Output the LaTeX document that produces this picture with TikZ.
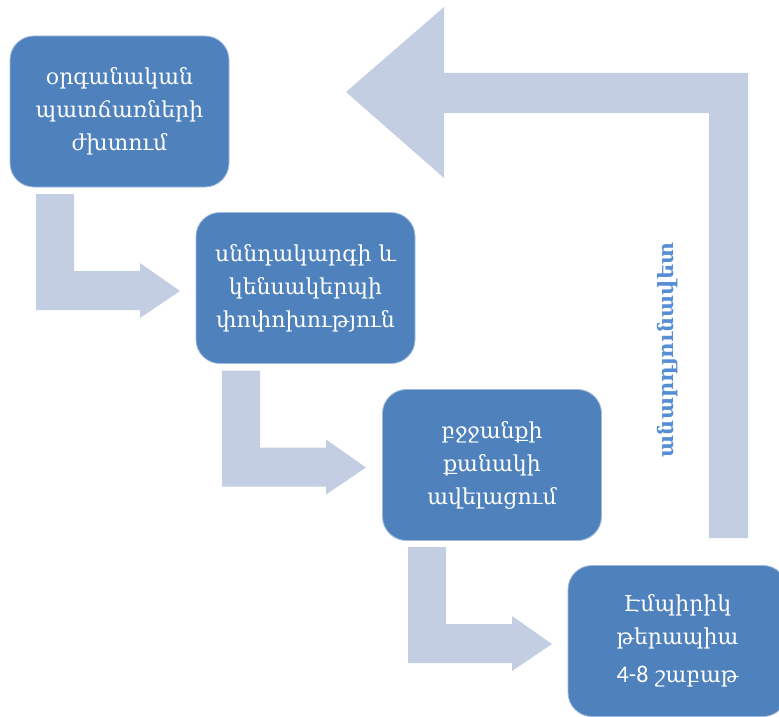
\documentclass[tikz,border=0pt]{standalone}
\usepackage{fontspec}
\setmainfont{DejaVu Serif}
\newfontfamily\numfont{Carlito}
\definecolor{boxblue}{RGB}{79,129,189}
\definecolor{arrowgray}{RGB}{195,206,226}
\definecolor{labelblue}{RGB}{85,142,213}
\begin{document}
\begin{tikzpicture}[x=1pt,y=-1pt,
  stepbox/.style={rectangle, rounded corners=24pt, fill=boxblue, draw=boxblue!55!white, line width=0.8pt,
    text=white, align=center, minimum width=219pt, minimum height=151pt, inner sep=0pt,
    font=\fontsize{22}{33}\selectfont},
  blockarrow/.style={fill=arrowgray, draw=none},
  looplabel/.style={rotate=90, text=labelblue, font=\bfseries\fontsize{21}{26}\selectfont}]
\useasboundingbox (0,0) rectangle (779,717);
\clip (0,0) rectangle (779,717);
% bent block arrows between steps
\foreach \k in {0,1,2}{
  \begin{scope}[shift={(186*\k,176.5*\k)}]
    \fill[blockarrow] (36,194) -- (74,194) -- (74,271) -- (140,271) -- (140,263) -- (180,291)
      -- (140,318) -- (140,310) -- (36,310) -- cycle;
  \end{scope}
}
% big return arrow
\fill[blockarrow] (748,538) -- (748,73) -- (444,73) -- (444,7) -- (346,92) -- (444,178)
  -- (444,113) -- (709,113) -- (709,538) -- cycle;
% step boxes
\node[stepbox] (b1) at (119.5,111.5) {օրգանական\\պատճառների\\ժխտում};
\node[stepbox] (b2) at (305.5,288) {սննդակարգի և\\կենսակերպի\\փոփոխություն};
\node[stepbox] (b3) at (492,465) {բջջանքի\\քանակի\\ավելացում};
\node[stepbox] (b4) at (677.5,641) {Էմպիրիկ\\թերապիա\\[5pt]{\numfont\fontsize{24}{33}\selectfont 4-8} շաբաթ};
% label of the return arrow
\node[looplabel] (lbl) at (668,350) {անարդյունավետ};
\end{tikzpicture}
\end{document}
